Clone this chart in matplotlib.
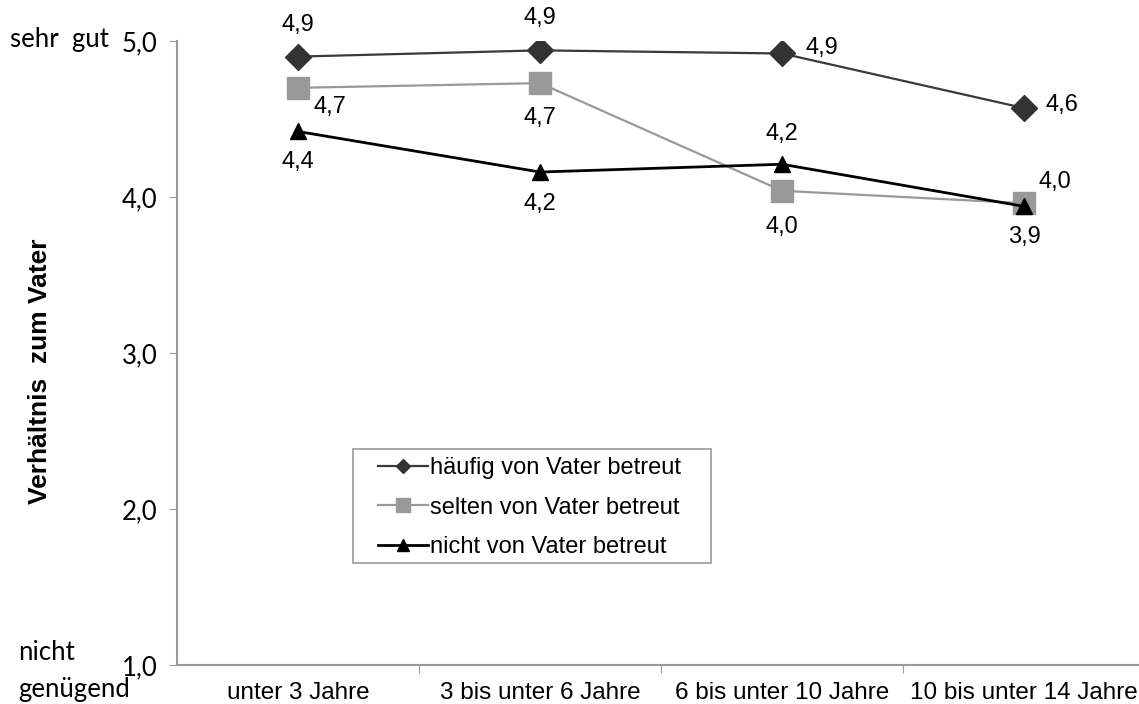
import matplotlib.pyplot as plt
from matplotlib.patches import Rectangle

# data
categories = ['unter 3 Jahre', '3 bis unter 6 Jahre', '6 bis unter 10 Jahre', '10 bis unter 14 Jahre']
haeufig = [4.90, 4.94, 4.92, 4.57]
selten = [4.70, 4.73, 4.04, 3.96]
nicht = [4.42, 4.16, 4.21, 3.94]

# label offsets (points) per point
off_haeufig = [(0, 23), (0, 23), (29, 4), (27, 2)]
off_selten = [(23, -14), (0, -25), (0, -26), (22, 15)]
off_nicht = [(0, -22), (0, -23), (0, 22), (0, -22)]

plt.rcParams['font.family'] = ['Liberation Sans', 'DejaVu Sans']

W, H = 1139, 704
fig = plt.figure(figsize=(W / 100, H / 100), dpi=100)
ax = fig.add_axes([177 / W, 39 / H, 968 / W, 624 / H])

x = list(range(len(categories)))
ax.plot(x, haeufig, color='#3a3a3a', lw=1.6, marker='D', ms=13, mfc='#333333', mec='#333333',
        label='häufig von Vater betreut', zorder=3)
ax.plot(x, selten, color='#999999', lw=1.6, marker='s', ms=16, mfc='#999999', mec='#999999',
        label='selten von Vater betreut', zorder=2)
ax.plot(x, nicht, color='#000000', lw=2, marker='^', ms=11, mfc='black', mec='black',
        label='nicht von Vater betreut', zorder=4)

for vals, offs in [(haeufig, off_haeufig), (selten, off_selten), (nicht, off_nicht)]:
    for i, v in enumerate(vals):
        ax.annotate(f'{v:.1f}'.replace('.', ','), (i, v), xytext=offs[i], textcoords='offset points',
                    ha='center', va='center', fontsize=17)

ax.set_xlim(-0.5, 3.5)
ax.set_ylim(1, 5)
ax.set_yticks([1, 2, 3, 4, 5])
ax.set_yticklabels(['1,0', '2,0', '3,0', '4,0', '5,0'], family='Lato', fontsize=18.5)
ax.set_xticks([0.5, 1.5, 2.5])
ax.set_xticklabels([])
ax.set_xticks(x, minor=True)
ax.set_xticklabels(categories, minor=True, fontsize=17.5)
ax.tick_params(axis='x', which='minor', length=0, pad=12)
ax.tick_params(axis='x', which='major', length=6, color='#999999')
ax.tick_params(axis='y', length=6, color='#999999', pad=8)

for s in ['top', 'right']:
    ax.spines[s].set_visible(False)
for s in ['left', 'bottom']:
    ax.spines[s].set_color('#999999')
    ax.spines[s].set_linewidth(1.5)

ax.set_ylabel('Verhältnis  zum Vater', fontsize=19, fontweight='bold', va='center')
ax.yaxis.set_label_coords(-(177 - 40) / 968, (665 - 371) / 624)

fig.text(10 / W, 1 - 40 / H, 'sehr  gut', family='Lato', fontsize=18.5, va='center', ha='left')
fig.text(18 / W, 1 - 652 / H, 'nicht', family='Lato', fontsize=18.5, va='center', ha='left')
fig.text(18 / W, 1 - 690 / H, 'genügend', family='Lato', fontsize=18.5, va='center', ha='left')

# legend: contents without frame, box drawn separately
leg = ax.legend(loc='upper left', bbox_to_anchor=(378 / W, 1 - 457 / H), bbox_transform=fig.transFigure,
                fontsize=17, frameon=False, handlelength=2.1, borderaxespad=0,
                handletextpad=0.1, borderpad=0, labelspacing=0.75)
for h, ms in zip(leg.legend_handles, [7, 10, 9]):
    h.set_markersize(ms)
fig.patches.append(Rectangle((353 / W, 1 - 563 / H), 358 / W, 114 / H, transform=fig.transFigure,
                             fill=False, edgecolor='#999999', lw=1.2))

plt.savefig('out.png', dpi=100)
